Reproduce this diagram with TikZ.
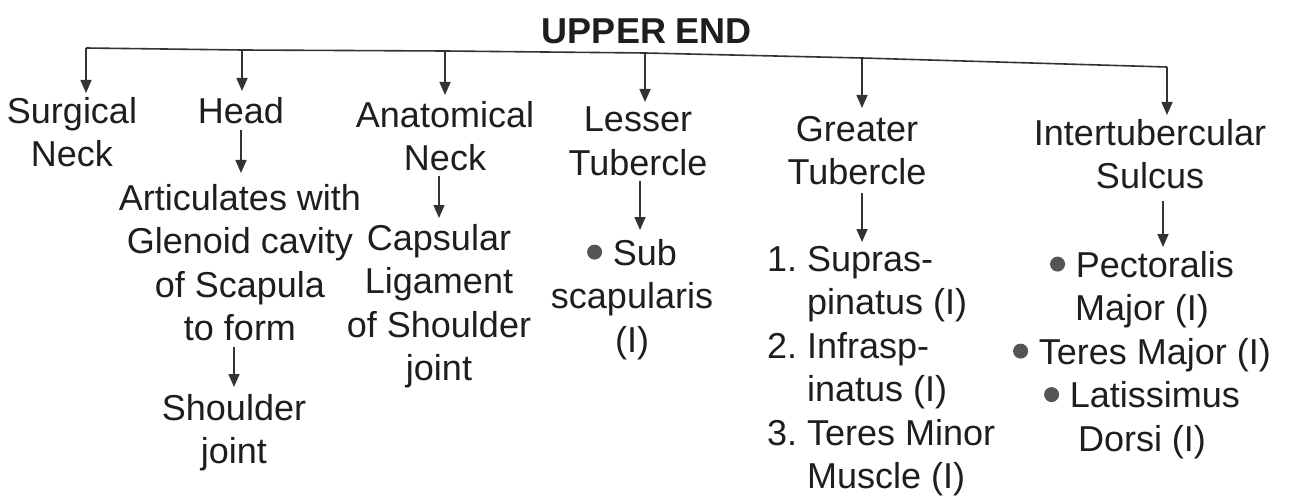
\documentclass[tikz,border=0pt]{standalone}
\usepackage{fontspec}
\setmainfont{Liberation Sans}
\usetikzlibrary{arrows.meta}
\definecolor{ink}{HTML}{1E1E1E}
\definecolor{linecol}{HTML}{333333}
\definecolor{dotcol}{HTML}{555555}
\newcommand{\dotmark}{\tikz[baseline=-13pt]\fill[dotcol] (0,0) circle (7.5pt);\hspace{0.3em}}
\begin{document}
\begin{tikzpicture}[x=1pt,y=-1pt,
  txt/.style={font=\fontsize{36}{43.5}\selectfont, text=ink, inner sep=0pt, outer sep=0pt, align=center, anchor=north},
  lst/.style={txt, align=left, anchor=north west},
  conn/.style={draw=linecol, line width=1.6pt},
  arr/.style={conn, -{Triangle[width=11pt,length=13pt]}},
]
\useasboundingbox[fill=white] (0,0) rectangle (1292,497);

\node[txt, font=\fontsize{36}{43.5}\selectfont\bfseries] (title) at (647,19) {UPPER END};

\node[txt] (surg) at (72,97) {Surgical\\Neck};
\node[txt] (head) at (241,97) {Head};
\node[txt] (art) at (240,184) {Articulates with\\Glenoid cavity\\of Scapula\\to form};
\node[txt] (shoulder) at (234,394) {Shoulder\\joint};
\node[txt] (anat) at (445,101) {Anatomical\\Neck};
\node[txt] (caps) at (439,224) {Capsular\\Ligament\\of Shoulder\\joint};
\node[txt] (lesser) at (638,107) {Lesser\\Tubercle};
\node[txt] (sub) at (632,239) {\dotmark Sub\\scapularis\\(I)};
\node[txt] (greater) at (857,116) {Greater\\Tubercle};
\node[lst] (gl) at (767,246) {1.\ Supras-\\\hphantom{1.}\ pinatus (I)\\2.\ Infrasp-\\\hphantom{2.}\ inatus (I)\\3.\ Teres Minor\\\hphantom{3.}\ Muscle (I)};
\node[txt] (inter) at (1150,119) {Intertubercular\\Sulcus};
\node[txt] (il) at (1142,251) {\dotmark Pectoralis\\Major (I)\\\dotmark Teres Major (I)\\\dotmark Latissimus\\Dorsi (I)};

% bus line
\coordinate (b1) at (86,48);
\coordinate (b2) at (242,50);
\coordinate (b3) at (445,51);
\coordinate (b4) at (645,53);
\coordinate (b5) at (862,58);
\coordinate (b6) at (1167,67);
\draw[conn, line join=miter] (b1) -- (b2) -- (b3) -- (b4) -- (b5) -- (b6);

\draw[arr, shorten >=4pt] (b1) -- (b1 |- surg.north);
\draw[arr, shorten >=6pt] (b2) -- (b2 |- head.north);
\draw[arr, shorten >=6pt] (b3) -- (b3 |- anat.north);
\draw[arr, shorten >=5pt] (b4) -- (b4 |- lesser.north);
\draw[arr, shorten >=8pt] (b5) -- (b5 |- greater.north);
\draw[arr, shorten >=4pt] (b6) -- (b6 |- inter.north);

% second level
\draw[arr, shorten <=7pt, shorten >=11pt] (head.south) -- (head.south |- art.north);
\draw[arr, shorten <=5pt, shorten >=6pt] (caps.north |- anat.south) -- (caps.north);
\draw[arr, shorten <=6pt, shorten >=7pt] (shoulder.north |- art.south) -- (shoulder.north);
\draw[arr, shorten <=5pt, shorten >=9pt] ([xshift=2pt]lesser.south) -- ([xshift=2pt]lesser.south |- sub.north);
\draw[arr, shorten <=8pt, shorten >=4pt] ([xshift=5pt]greater.south) -- ([xshift=5pt]greater.south |- gl.north);
\draw[arr, shorten <=12pt, shorten >=4pt] ([xshift=13pt]inter.south) -- ([xshift=13pt]inter.south |- il.north);
\end{tikzpicture}
\end{document}
